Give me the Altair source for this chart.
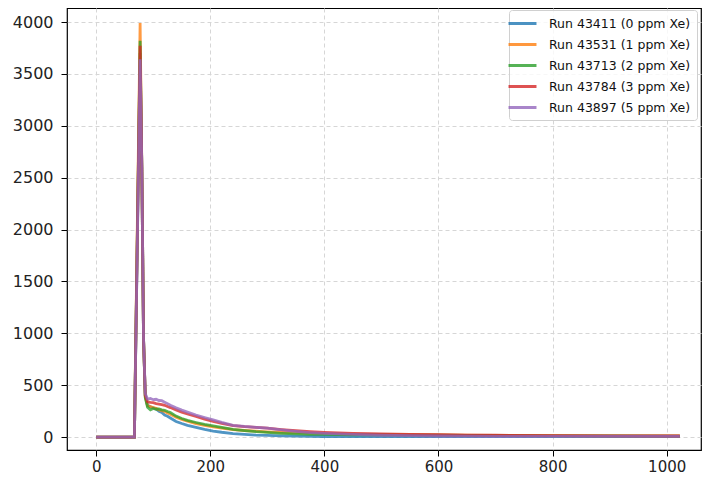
import altair as alt
import pandas as pd

# sample positions (shared by all runs)
x_vals = [0, 67, 77, 80, 83, 86, 90, 95, 100, 105, 110, 115, 120, 125, 130, 140, 150, 160, 175, 190,
          205, 220, 240, 260, 280, 300, 325, 350, 375, 400, 450, 500, 550, 600, 650, 700, 800, 900, 1023]

run_labels = ["Run 43411 (0 ppm Xe)", "Run 43531 (1 ppm Xe)", "Run 43713 (2 ppm Xe)",
              "Run 43784 (3 ppm Xe)", "Run 43897 (5 ppm Xe)"]

run_43411 = [0, 0, 3700, 2600, 950, 400, 305, 292, 282, 270, 248, 236, 212, 200, 183, 150, 130, 112,
             92, 73, 58, 46, 33, 25, 19, 16, 11, 8, 6, 5, 5, 4, 4, 4, 4, 4, 4, 4, 4]
run_43531 = [0, 0, 3990, 2600, 950, 390, 300, 294, 285, 276, 262, 255, 246, 232, 220, 192, 170, 153,
             130, 112, 98, 86, 72, 63, 56, 50, 44, 40, 36, 33, 28, 25, 22, 20, 18, 16, 13, 11, 10]
run_43713 = [0, 0, 3820, 2600, 950, 380, 288, 262, 276, 268, 270, 262, 258, 246, 236, 202, 178, 160,
             140, 121, 108, 92, 73, 62, 52, 45, 36, 30, 27, 25, 22, 20, 18, 17, 15, 14, 11, 10, 9]
run_43784 = [0, 0, 3770, 2600, 950, 400, 340, 334, 331, 322, 318, 312, 306, 294, 284, 262, 240, 222,
             198, 173, 150, 131, 110, 100, 93, 86, 72, 61, 52, 45, 36, 30, 26, 22, 19, 17, 13, 11, 10]
run_43897 = [0, 0, 3640, 2600, 950, 420, 366, 372, 360, 364, 352, 350, 336, 322, 306, 281, 259, 240,
             212, 188, 165, 141, 113, 102, 94, 86, 70, 55, 42, 35, 25, 17, 13, 10, 8, 7, 6, 6, 6]

series = [run_43411, run_43531, run_43713, run_43784, run_43897]
colors = ["#1f77b4", "#ff7f0e", "#2ca02c", "#d62728", "#9467bd"]

y_ticks = [0, 500, 1000, 1500, 2000, 2500, 3000, 3500, 4000]
x_ticks = [0, 200, 400, 600, 800, 1000]

rows = []
for lab, vals in zip(run_labels, series):
    for xv, yv in zip(x_vals, vals):
        rows.append({"sample": xv, "value": yv, "run": lab})
df = pd.DataFrame(rows)

font = "DejaVu Sans"

chart = alt.Chart(df).mark_line(strokeWidth=2.8, opacity=0.78, clip=True).encode(
    x=alt.X("sample:Q",
            scale=alt.Scale(domain=[-51.15, 1060.1], nice=False, zero=False),
            axis=alt.Axis(values=x_ticks, title=None, format="d", labelPadding=3,
                          labelFontSize=15)),
    y=alt.Y("value:Q",
            scale=alt.Scale(domain=[-125, 4135], nice=False, zero=False),
            axis=alt.Axis(values=y_ticks, title=None, format="d", labelPadding=8,
                          labelFontSize=16)),
    color=alt.Color("run:N",
                    scale=alt.Scale(domain=run_labels, range=colors),
                    legend=alt.Legend(
                        title=None, orient="none", legendX=442, legendY=2,
                        symbolType="M-2.33,0H2.33", symbolSize=144,
                        symbolStrokeWidth=3, symbolOpacity=0.8,
                        labelFontSize=12.5, labelFont=font, labelColor="#111",
                        labelOffset=19, rowPadding=7,
                        fillColor="rgba(255,255,255,0.8)", strokeColor="#d0d0d0",
                        cornerRadius=3, padding=6, offset=0)),
    order=alt.Order("sample:Q"),
).properties(
    width=634, height=442,
    autosize=alt.AutoSizeParams(type="none"),
    padding={"left": 59, "top": 0, "right": 1, "bottom": 28},
).configure_view(
    stroke="black", strokeWidth=1.2,
).configure_axis(
    domain=False,
    grid=True, gridColor="#d6d6d6", gridDash=[4, 3], gridWidth=1,
    ticks=True, tickColor="black", tickSize=6, tickWidth=1,
    labelFont=font, labelColor="#222",
)

chart.save("out.html", embed_options={"renderer": "svg", "actions": False})
